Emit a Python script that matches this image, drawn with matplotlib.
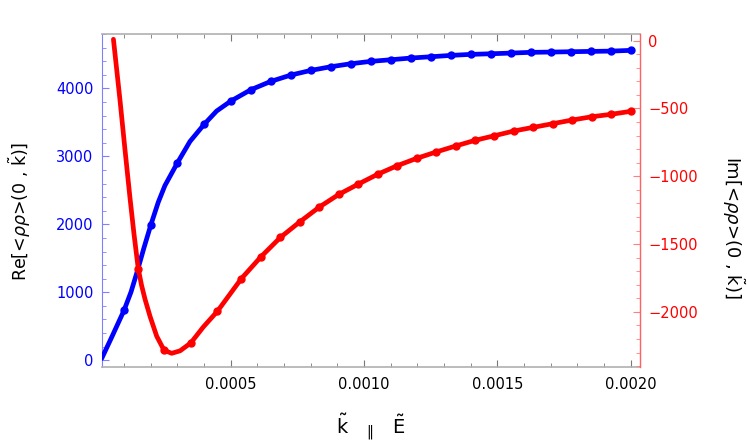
import matplotlib.pyplot as plt
from matplotlib.ticker import MultipleLocator, FormatStrFormatter

# Real part (left axis) - sampled points
re_k = [0.0001, 0.0002, 0.0003, 0.0004, 0.0005, 0.000575, 0.00065, 0.000725, 0.0008,
        0.000875, 0.00095, 0.001025, 0.0011, 0.001175, 0.00125, 0.001325, 0.0014,
        0.001475, 0.00155, 0.001625, 0.0017, 0.001775, 0.00185, 0.001925, 0.002]
re_val = [736, 1988, 2906, 3471, 3814, 3981, 4104, 4197, 4266, 4320, 4364, 4399, 4423,
          4448, 4467, 4487, 4502, 4511, 4521, 4532, 4536, 4541, 4546, 4550, 4561]

re_curve_k = [0.000016, 0.000054, 0.0001, 0.000126, 0.0001485, 0.0001747, 0.0002,
              0.000228, 0.000253, 0.0003, 0.000347, 0.0004, 0.000447, 0.0005, 0.000575,
              0.00065, 0.000725, 0.0008, 0.000875, 0.00095, 0.001025, 0.0011, 0.001175,
              0.00125, 0.001325, 0.0014, 0.001475, 0.00155, 0.001625, 0.0017, 0.001775,
              0.00185, 0.001925, 0.002]
re_curve_val = [25, 343, 736, 1005, 1296, 1657, 1988, 2324, 2570, 2906, 3220, 3471, 3668,
                3814, 3981, 4104, 4197, 4266, 4320, 4364, 4399, 4423, 4448, 4467, 4487,
                4502, 4511, 4521, 4532, 4536, 4541, 4546, 4550, 4561]

# Imaginary part (right axis) - sampled points
im_k = [0.000153, 0.00025, 0.00035, 0.00045, 0.00054, 0.000613, 0.000686, 0.000759,
        0.000832, 0.000905, 0.000978, 0.001051, 0.001124, 0.001197, 0.00127, 0.001343,
        0.001416, 0.001489, 0.001562, 0.001635, 0.001708, 0.001781, 0.001854, 0.001927,
        0.002]
im_val = [-1680, -2283, -2229, -1995, -1754, -1594, -1451, -1336, -1227, -1134, -1058,
          -985, -922, -868, -821, -777, -735, -701, -666, -639, -612, -585, -561, -543,
          -521]

# Imaginary part - fitted curve
im_curve_k = [0.00006, 0.0000847, 0.0001035, 0.0001222, 0.0001372, 0.000153, 0.0001654,
              0.0001785, 0.0001972, 0.0002223, 0.00025, 0.0002786, 0.0003097, 0.00035,
              0.0003971, 0.00045, 0.00054, 0.000613, 0.000686, 0.000759, 0.000832,
              0.000905, 0.000978, 0.001051, 0.001124, 0.001197, 0.00127, 0.001343,
              0.001416, 0.001489, 0.001562, 0.001635, 0.001708, 0.001781, 0.001854,
              0.001927, 0.002]
im_curve_val = [10, -440, -807, -1161, -1427, -1680, -1803, -1906, -2032, -2179, -2283,
                -2305, -2287, -2229, -2111, -1995, -1754, -1594, -1451, -1336, -1227,
                -1134, -1058, -985, -922, -868, -821, -777, -735, -701, -666, -639, -612,
                -585, -561, -543, -521]

blue = '#0000ff'
red = '#ff0000'

fig = plt.figure(figsize=(7.47, 4.41), dpi=100)
ax = fig.add_axes([0.1365, 0.1678, 0.7203, 0.7551])
ax2 = ax.twinx()

ax.plot(re_curve_k, re_curve_val, color=blue, lw=3.4, solid_capstyle='round',
        solid_joinstyle='round', zorder=3)
ax.plot(re_k, re_val, 'o', color=blue, ms=5, zorder=4)
ax2.plot(im_curve_k, im_curve_val, color=red, lw=3.4, solid_capstyle='round',
         solid_joinstyle='round', zorder=3)
ax2.plot(im_k, im_val, 'o', color=red, ms=5, zorder=4)

ax.set_xlim(0.000017, 0.002035)
ax.set_ylim(-100, 4802)
ax2.set_ylim(-2406, 49)

# x axis
ax.xaxis.set_major_locator(MultipleLocator(0.0005))
ax.xaxis.set_minor_locator(MultipleLocator(0.0001))
ax.xaxis.set_major_formatter(FormatStrFormatter('%.4f'))
ax.xaxis.set_ticks_position('both')
ax.tick_params(axis='x', which='both', direction='in', color='#777777', labelsize=10.5,
               labelcolor='black', pad=7)
ax.tick_params(axis='x', which='major', length=5, width=0.8)
ax.tick_params(axis='x', which='minor', length=3, width=0.6)

# left y axis
ax.yaxis.set_major_locator(MultipleLocator(1000))
ax.yaxis.set_minor_locator(MultipleLocator(200))
ax.tick_params(axis='y', which='both', direction='in', color='#8080ff', labelsize=10.5,
               labelcolor=blue, pad=6)
ax.tick_params(axis='y', which='major', length=5, width=0.8)
ax.tick_params(axis='y', which='minor', length=3, width=0.6)

# right y axis
ax2.yaxis.set_major_locator(MultipleLocator(500))
ax2.yaxis.set_minor_locator(MultipleLocator(100))
ax2.tick_params(axis='y', which='both', direction='in', color='#ff8080', labelsize=10.5,
                labelcolor=red, pad=6)
ax2.tick_params(axis='y', which='major', length=5, width=0.8)
ax2.tick_params(axis='y', which='minor', length=3, width=0.6)

for s in ['top', 'bottom']:
    ax.spines[s].set_color('#b0b0b0')
    ax.spines[s].set_linewidth(1.2)
ax.spines['left'].set_color('#8080ff')
ax.spines['right'].set_visible(False)
for s in ['top', 'bottom', 'left']:
    ax2.spines[s].set_visible(False)
ax2.spines['right'].set_color('#ff6060')
ax2.spines['right'].set_linewidth(1.0)

ax.set_xlabel(r'$\mathrm{\tilde{k}}$   $_{\Vert}$   $\mathrm{\tilde{E}}$', fontsize=14,
              labelpad=14)
fig.text(0.026, 0.52, r'Re[<$\rho\rho$>(0 , $\mathrm{\tilde{k}}$)]', rotation=90,
         fontsize=12.5, ha='center', va='center')
fig.text(0.981, 0.485, r'Im[<$\rho\rho$>(0 , $\mathrm{\tilde{k}}$)]', rotation=270,
         fontsize=13, ha='center', va='center')

fig.savefig('out.png', dpi=100)
